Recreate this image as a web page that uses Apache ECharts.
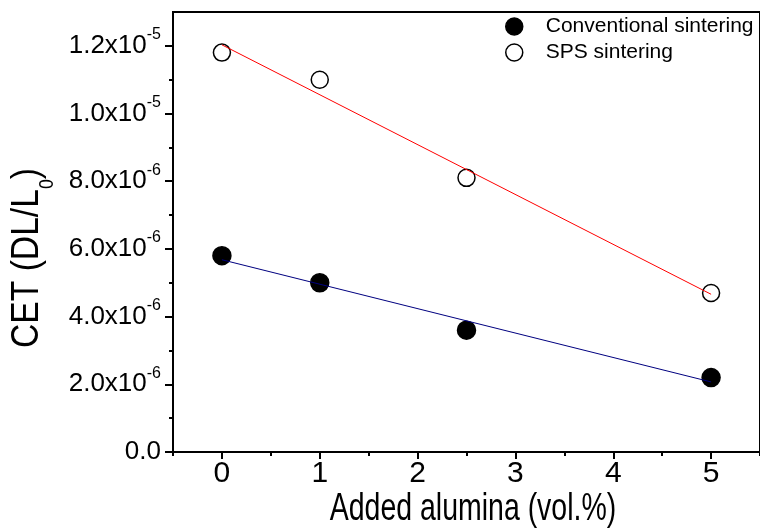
<!DOCTYPE html>
<html>
<head>
<meta charset="utf-8">
<script src="https://cdn.jsdelivr.net/npm/echarts@6/dist/echarts.min.js"></script>
<style>
html,body{margin:0;padding:0;background:#fff;}
#chart{width:760px;height:532px;}
</style>
</head>
<body>
<div id="chart"></div>
<script>
// ---- data ----
const xValues = [0, 1, 2.5, 5];
const conventional = [5.8e-6, 5.0e-6, 3.6e-6, 2.2e-6];
const sps = [1.18e-5, 1.10e-5, 8.1e-6, 4.7e-6];
const fitX = [0, 5];
const conventionalFit = [5.68e-6, 2.07e-6];
const spsFit = [1.203e-5, 4.66e-6];
const seriesNames = ['Conventional sintering', 'SPS sintering'];
const xTickValues = [0, 1, 2, 3, 4, 5];
const xMinorTickValues = [-0.5, 0.5, 1.5, 2.5, 3.5, 4.5, 5.5];
const yTickValues = [0, 2e-6, 4e-6, 6e-6, 8e-6, 1.0e-5, 1.2e-5];
const yTickMantissas = ['0.0', '2.0', '4.0', '6.0', '8.0', '1.0', '1.2'];
const yTickExponents = ['', '-6', '-6', '-6', '-6', '-5', '-5'];
const yMinorTickValues = [1e-6, 3e-6, 5e-6, 7e-6, 9e-6, 1.1e-5];
const xTitle = 'Added alumina (vol.%)';
const yTitleMain = 'CET (DL/L';
const yTitleSub = '0';
const yTitleEnd = ')';

const pairs = (xs, ys) => xs.map((x, i) => [x, ys[i]]);
const regular = "'Liberation Sans', Arial, sans-serif";

const chart = echarts.init(document.getElementById('chart'), null, {renderer: 'canvas'});

const yLabelFormatter = function (v) {
  const i = Math.round(v / 2e-6);
  if (i < 0 || i >= yTickMantissas.length || Math.abs(v - yTickValues[i]) > 1e-9) return '';
  if (!yTickExponents[i]) return '{m|' + yTickMantissas[i] + '}';
  return '{m|' + yTickMantissas[i] + 'x10}{e|' + yTickExponents[i] + '}';
};

const option = {
  animation: false,
  backgroundColor: '#fff',
  grid: {
    left: 173, right: -6, top: 12, bottom: 80,
    show: true, borderColor: '#000', borderWidth: 2, backgroundColor: 'transparent'
  },
  legend: {
    orient: 'vertical',
    left: 505, top: 16, padding: 0,
    itemWidth: 17, itemHeight: 17, itemGap: 5,
    icon: 'circle',
    textStyle: {fontFamily: regular, fontSize: 21, color: '#000', lineHeight: 20, padding: [0, 0, 0, 18]},
    data: [
      {name: seriesNames[0], itemStyle: {color: '#000', borderColor: '#000', borderWidth: 1.5}},
      {name: seriesNames[1], itemStyle: {color: '#fff', borderColor: '#000', borderWidth: 1.5}}
    ]
  },
  xAxis: [
    {
      type: 'value', min: -0.5, max: 5.5, position: 'bottom',
      axisLine: {show: true, onZero: false, lineStyle: {color: '#000', width: 2}},
      axisTick: {show: true, length: 7, lineStyle: {color: '#000', width: 2}, customValues: xTickValues},
      axisLabel: {show: true, margin: 7, fontFamily: regular, fontSize: 30, color: '#000', customValues: xTickValues},
      splitLine: {show: false}
    },
    {
      type: 'value', min: -0.5, max: 5.5, position: 'bottom', gridIndex: 0,
      axisLine: {show: false, onZero: false},
      axisTick: {show: true, length: 4, lineStyle: {color: '#000', width: 2}, customValues: xMinorTickValues},
      axisLabel: {show: false},
      splitLine: {show: false}
    }
  ],
  yAxis: [
    {
      type: 'value', min: 0, max: 1.3e-5, position: 'left',
      axisLine: {show: true, onZero: false, lineStyle: {color: '#000', width: 2}},
      axisTick: {show: true, length: 8, lineStyle: {color: '#000', width: 2}, customValues: yTickValues},
      axisLabel: {
        show: true, margin: 12, color: '#000', customValues: yTickValues,
        formatter: yLabelFormatter,
        rich: {
          m: {fontFamily: regular, fontSize: 26, lineHeight: 38, color: '#000'},
          e: {fontFamily: regular, fontSize: 16, lineHeight: 16, verticalAlign: 'top', color: '#000'}
        }
      },
      splitLine: {show: false}
    },
    {
      type: 'value', min: 0, max: 1.3e-5, position: 'left', gridIndex: 0,
      axisLine: {show: false, onZero: false},
      axisTick: {show: true, length: 4, lineStyle: {color: '#000', width: 2}, customValues: yMinorTickValues},
      axisLabel: {show: false},
      splitLine: {show: false}
    }
  ],
  series: [
    {
      name: seriesNames[0], type: 'scatter', xAxisIndex: 0, yAxisIndex: 0,
      symbol: 'circle', symbolSize: 18,
      itemStyle: {color: '#000', borderColor: '#000', borderWidth: 1.5, opacity: 1},
      data: pairs(xValues, conventional), z: 2
    },
    {
      name: seriesNames[1], type: 'scatter', xAxisIndex: 0, yAxisIndex: 0,
      symbol: 'circle', symbolSize: 17,
      itemStyle: {color: '#fff', borderColor: '#000', borderWidth: 1.5, opacity: 1},
      data: pairs(xValues, sps), z: 2
    },
    {
      name: 'Conventional fit', type: 'line', xAxisIndex: 0, yAxisIndex: 0,
      showSymbol: false, symbol: 'none', silent: true,
      lineStyle: {color: '#000080', width: 1},
      data: pairs(fitX, conventionalFit), z: 3
    },
    {
      name: 'SPS fit', type: 'line', xAxisIndex: 0, yAxisIndex: 0,
      showSymbol: false, symbol: 'none', silent: true,
      lineStyle: {color: '#ff0000', width: 1},
      data: pairs(fitX, spsFit), z: 3
    }
  ],
  graphic: [
    {
      type: 'text', x: 473, y: 509.5, scaleX: 0.73,
      style: {
        text: xTitle, fontFamily: regular, fontSize: 39, fill: '#000',
        textAlign: 'center', textVerticalAlign: 'middle'
      }
    },
    {
      type: 'text', x: 33, y: 258, rotation: Math.PI / 2, scaleX: 0.885,
      style: {
        text: '{a|' + yTitleMain + '}{s|' + yTitleSub + '}{a|' + yTitleEnd + '}',
        textAlign: 'center', textVerticalAlign: 'middle', fill: '#000',
        rich: {
          a: {fontFamily: regular, fontSize: 38, lineHeight: 38, verticalAlign: 'top', fill: '#000', color: '#000'},
          s: {fontFamily: regular, fontSize: 20, lineHeight: 48, verticalAlign: 'bottom', fill: '#000', color: '#000'}
        }
      }
    }
  ]
};
chart.setOption(option);
</script>
</body>
</html>
